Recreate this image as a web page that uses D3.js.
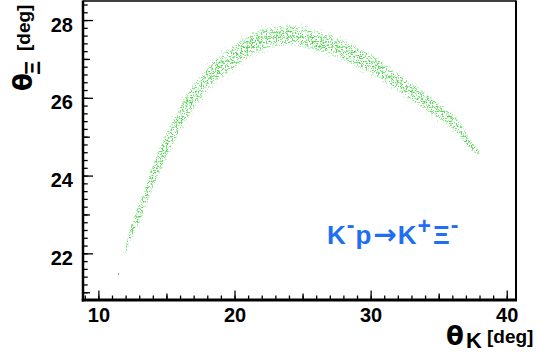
<!DOCTYPE html>
<html>
<head>
<meta charset="utf-8">
<script src="https://cdn.jsdelivr.net/npm/d3@7"></script>
<style>
  body { margin: 0; background: #fff; }
  text { font-family: "Liberation Sans", Arial, sans-serif; font-weight: bold; }
</style>
</head>
<body>
<div id="chart"></div>
<script>
const width = 538;
const height = 357;

// band of the scatter (theta_K in deg)
const thetaK = [12.0, 12.21, 12.72, 13.24, 13.82, 14.56, 15.29, 16.25, 17.28, 18.46, 19.93, 21.69, 23.01, 24.12,
  25.22, 26.32, 27.43, 28.53, 29.63, 30.74, 31.69, 33.16, 34.63, 35.88, 36.62, 37.13, 37.72, 38.0];
// centre of the band (theta_Xi in deg)
const thetaXiMid = [22.05, 22.34, 22.81, 23.24, 23.81, 24.45, 24.99, 25.63, 26.17, 26.64, 27.05, 27.46, 27.56, 27.61,
  27.54, 27.43, 27.31, 27.13, 26.95, 26.71, 26.48, 26.12, 25.76, 25.43, 25.15, 24.89, 24.66, 24.55];
// half width of the band (deg)
const thetaXiSpread = [0.06, 0.15, 0.26, 0.28, 0.31, 0.33, 0.33, 0.33, 0.33, 0.31, 0.31, 0.28, 0.26, 0.26,
  0.26, 0.26, 0.26, 0.26, 0.26, 0.26, 0.23, 0.23, 0.23, 0.21, 0.18, 0.15, 0.10, 0.05];
// isolated events
const strayK = [11.47];
const strayXi = [21.47];

const xTicks = [10, 20, 30, 40];
const yTicks = [22, 24, 26, 28];

const band = thetaK.map((k, i) => ({k: k, mid: thetaXiMid[i], s: thetaXiSpread[i]}));

let svg = d3.select('#chart').append('svg')
  .attr('width', width)
  .attr('height', height)
  .style('display', 'block');

svg.append('rect').attr('width', width).attr('height', height).style('fill', '#fff');

const pL = 83, pR = 516, pT = 1, pB = 300;
let x = d3.scaleLinear().domain([8.87, 40.68]).range([pL, pR]);
let y = d3.scaleLinear().domain([20.8, 28.49]).range([pB, pT]);

// speckle filters: noise thresholded into single dots
let defs = svg.append('defs');
function speckle(id, seed, freq, cut) {
  let f = defs.append('filter').attr('id', id)
    .attr('x', -0.05).attr('y', -0.05).attr('width', 1.1).attr('height', 1.1)
    .attr('color-interpolation-filters', 'sRGB');
  f.append('feTurbulence')
    .attr('type', 'fractalNoise')
    .attr('baseFrequency', freq)
    .attr('numOctaves', 1)
    .attr('seed', seed)
    .attr('result', 'n');
  f.append('feColorMatrix').attr('in', 'n').attr('type', 'matrix')
    .attr('values', '0 0 0 0 0  0 0 0 0 0  0 0 0 0 0  1 0 0 0 0')
    .attr('result', 'a');
  let table = d3.range(20).map(i => (i >= cut ? 1 : 0)).join(' ');
  f.append('feComponentTransfer').attr('in', 'a').attr('result', 'm')
    .append('feFuncA').attr('type', 'discrete').attr('tableValues', table);
  f.append('feComposite').attr('in', 'SourceGraphic').attr('in2', 'm').attr('operator', 'in');
}
speckle('spk0', 41, 0.8, 14);
speckle('spk1', 3, 0.8, 12);
speckle('spk2', 11, 0.8, 12);
speckle('spk3', 27, 0.8, 13);

function bandArea(w) {
  return d3.area()
    .x(d => x(d.k))
    .y0(d => y(d.mid - d.s * w))
    .y1(d => y(d.mid + d.s * w))
    .curve(d3.curveCatmullRom);
}

let scatter = svg.append('g');
const layers = [
  {w: 1.35, fill: '#c8f5c8', f: 'spk0'},
  {w: 1.0, fill: '#aeeeae', f: 'spk1'},
  {w: 0.85, fill: '#70e070', f: 'spk2'},
  {w: 0.5, fill: '#4cd44c', f: 'spk3'}
];
layers.forEach(l => {
  scatter.append('path').datum(band)
    .attr('d', bandArea(l.w))
    .style('fill', l.fill)
    .attr('filter', `url(#${l.f})`);
});

scatter.selectAll('rect.stray')
  .data(strayK)
  .enter().append('rect')
  .attr('class', 'stray')
  .attr('x', (d) => x(d) - 0.5)
  .attr('y', (d, i) => y(strayXi[i]) - 0.5)
  .attr('width', 1.2)
  .attr('height', 1.2)
  .style('fill', '#557755');

// ticks (inside the frame)
function noDomain(g) { g.select('.domain').remove(); }

svg.append('g').attr('transform', `translate(0,${pB})`)
  .call(d3.axisBottom(x).tickValues(d3.range(9, 41)).tickSize(-4.5).tickFormat(''))
  .call(noDomain);
svg.append('g').attr('transform', `translate(0,${pB})`)
  .call(d3.axisBottom(x).tickValues([15, 25, 35]).tickSize(-6.5).tickFormat(''))
  .call(noDomain);
let xAxis = svg.append('g').attr('transform', `translate(0,${pB})`)
  .call(d3.axisBottom(x).tickValues(xTicks).tickSize(-9.5).tickPadding(10))
  .call(noDomain);
xAxis.selectAll('text')
  .attr('y', 22)
  .attr('dy', 0)
  .style('font-size', '20px')
  .style('fill', '#000');

svg.append('g').attr('transform', `translate(${pL},0)`)
  .call(d3.axisLeft(y).tickValues(d3.range(105, 143).map(d => d / 5)).tickSize(-4.7).tickFormat(''))
  .call(noDomain);
svg.append('g').attr('transform', `translate(${pL},0)`)
  .call(d3.axisLeft(y).tickValues([21, 23, 25, 27]).tickSize(-7).tickFormat(''))
  .call(noDomain);
let yAxis = svg.append('g').attr('transform', `translate(${pL},0)`)
  .call(d3.axisLeft(y).tickValues(yTicks).tickSize(-10).tickPadding(10))
  .call(noDomain);
yAxis.selectAll('text')
  .attr('dy', 11)
  .style('font-size', '20px')
  .style('fill', '#000');

svg.selectAll('.tick line').style('stroke', '#000').style('stroke-width', 1.3);

// frame
let frame = svg.append('g').style('stroke', '#000').style('fill', 'none');
frame.append('line').attr('x1', pL).attr('x2', pR).attr('y1', pT).attr('y2', pT).style('stroke-width', 1.5);
frame.append('line').attr('x1', pR).attr('x2', pR).attr('y1', pT - 0.5).attr('y2', pB).style('stroke-width', 2);
frame.append('line').attr('x1', pL).attr('x2', pL).attr('y1', pT - 0.5).attr('y2', pB + 1.5).style('stroke-width', 2.5);
frame.append('line').attr('x1', pL - 1.2).attr('x2', pR + 1).attr('y1', pB).attr('y2', pB).style('stroke-width', 3);

// axis titles
let xt = svg.append('g').style('fill', '#000');
xt.append('text').text('θ').attr('x', 446).attr('y', 345)
  .style('font-family', '"DejaVu Sans", sans-serif').style('font-size', '26px');
xt.append('text').text('K').attr('x', 466).attr('y', 348).style('font-size', '22px');
xt.append('text').text('[deg]').attr('x', 487).attr('y', 343).style('font-size', '19px');

let yt = svg.append('g').style('fill', '#000');
yt.append('text').text('θ').attr('transform', 'translate(32,91) rotate(-90)')
  .style('font-family', '"DejaVu Sans", sans-serif').style('font-size', '26px');
yt.append('text').text('Ξ').attr('transform', 'translate(40,75) rotate(-90)').style('font-size', '22px');
yt.append('text').text('[deg]').attr('transform', 'translate(30,51) rotate(-90)').style('font-size', '19px');

// reaction label
let lab = svg.append('text').attr('x', 327).attr('y', 244)
  .style('fill', '#1f6ff2').style('font-size', '26px').style('letter-spacing', '1px');
lab.append('tspan').text('K');
lab.append('tspan').text('-').attr('dy', -11).style('font-size', '23px');
lab.append('tspan').text('p').attr('dy', 11);
lab.append('tspan').text('→').attr('dx', 1)
  .style('font-family', '"DejaVu Sans", sans-serif').style('font-size', '28px');
lab.append('tspan').text('K');
lab.append('tspan').text('+').attr('dy', -10).style('font-size', '23px');
lab.append('tspan').text('Ξ').attr('dy', 10).attr('dx', 1);
lab.append('tspan').text('-').attr('dy', -11).style('font-size', '23px');
</script>
</body>
</html>
